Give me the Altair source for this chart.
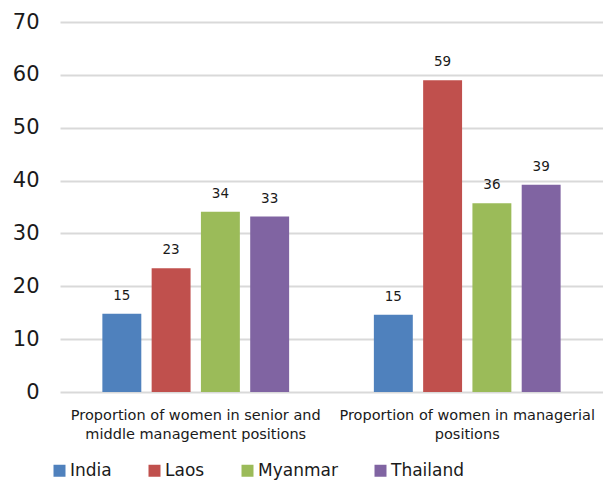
import altair as alt
import pandas as pd

groups = ["Proportion of women in senior and middle management positions",
          "Proportion of women in managerial positions"]
group_lines = [["Proportion of women in senior and", "middle management positions"],
               ["Proportion of women in managerial", "positions"]]
countries = ["India", "Laos", "Myanmar", "Thailand"]
colors = ["#4F81BD", "#C0504D", "#9BBB59", "#8064A2"]
senior_middle = [14.8, 23.4, 34.1, 33.2]
managerial = [14.6, 59.0, 35.7, 39.2]

rows = []
for g, vals in zip(groups, [senior_middle, managerial]):
    for c, v in zip(countries, vals):
        rows.append({"group": g, "country": c, "value": v})
df = pd.DataFrame(rows)

label_expr = " : ".join(
    [f"datum.value == '{g}' ? {lines!r}" for g, lines in zip(groups, group_lines)]
) + " : datum.value"

FONT = "DejaVu Sans"

x = alt.X("group:N", sort=groups, title=None,
          scale=alt.Scale(paddingInner=0.274, paddingOuter=0.137),
          axis=alt.Axis(labelExpr=label_expr, labelAngle=0, labelFontSize=14.5,
                        labelColor="#1a1a1a", ticks=False, domain=False, labelLimit=0,
                        labelPadding=16, labelLineHeight=19, labelFont=FONT))
xo = alt.XOffset("country:N", sort=countries,
                 scale=alt.Scale(paddingInner=0.21, paddingOuter=0.105))
y = alt.Y("value:Q", title=None,
          scale=alt.Scale(domain=[0, 70], nice=False),
          axis=alt.Axis(values=list(range(0, 71, 10)), labelFontSize=21,
                        labelColor="#1a1a1a", ticks=False, domain=False,
                        labelPadding=21, gridColor="#d9d9d9", gridWidth=2,
                        labelFont=FONT))

bars = alt.Chart(df).mark_bar().encode(
    x=x, xOffset=xo, y=y,
    color=alt.Color("country:N", sort=countries,
                    scale=alt.Scale(domain=countries, range=colors),
                    legend=alt.Legend(title=None, orient="none", direction="horizontal",
                                      legendX=-9, legendY=440, symbolType="square",
                                      symbolSize=144, symbolStrokeWidth=0,
                                      labelFontSize=17, labelColor="#1a1a1a",
                                      labelFont=FONT, columnPadding=34,
                                      labelOffset=2)),
)

labels = alt.Chart(df).mark_text(dy=-18, fontSize=13.5, color="#1a1a1a", font=FONT).encode(
    x=x, xOffset=xo, y=y,
    text=alt.Text("value:Q", format=".0f"),
)

chart = alt.layer(bars, labels).properties(
    width=543, height=370,
    padding={"left": 60, "top": 22, "right": 0, "bottom": 89},
    autosize=alt.AutoSizeParams(type="none"),
).configure_view(stroke=None)

chart.save("out.html", embed_options={"renderer": "svg", "actions": False})
